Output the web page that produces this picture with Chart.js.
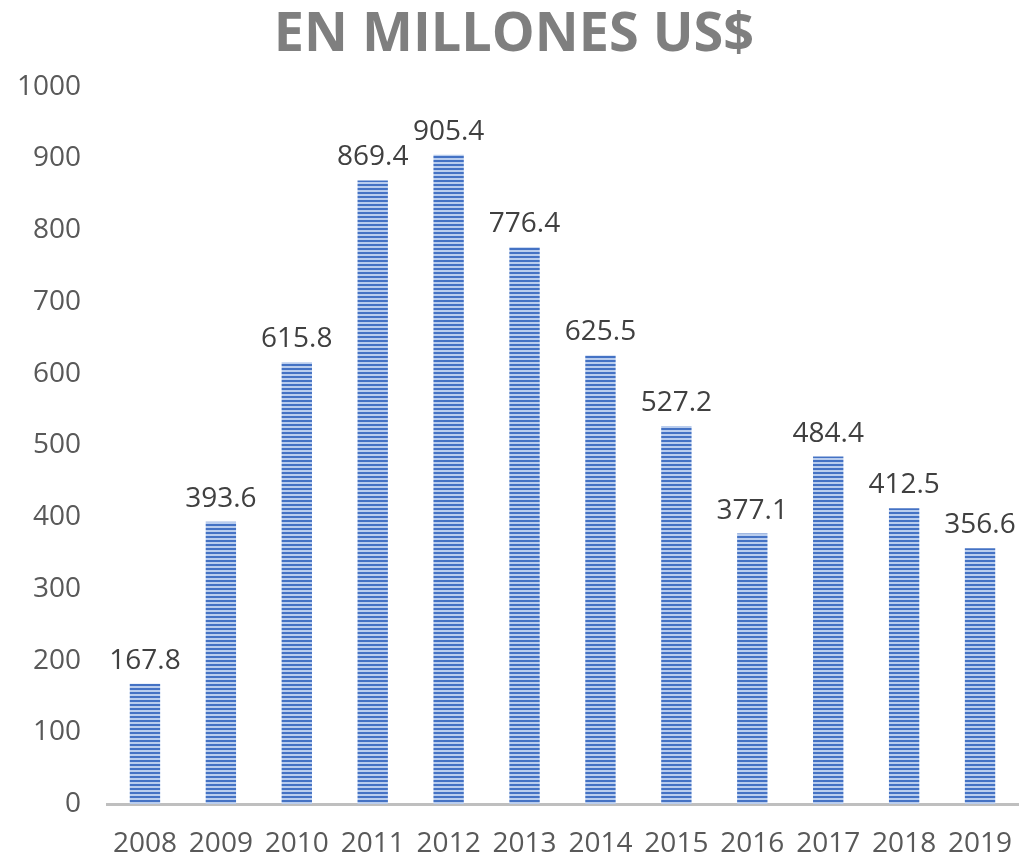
<!DOCTYPE html>
<html>
<head>
<meta charset="utf-8">
<script src="https://cdn.jsdelivr.net/npm/chart.js@4"></script>
<style>
  html, body { margin: 0; padding: 0; background: #fff; }
  #wrap { width: 1022px; height: 859px; }
</style>
</head>
<body>
<div id="wrap"><canvas id="chart" width="1022" height="859"></canvas></div>
<script>
const years = ['2008', '2009', '2010', '2011', '2012', '2013', '2014', '2015', '2016', '2017', '2018', '2019'];
const amounts = [167.8, 393.6, 615.8, 869.4, 905.4, 776.4, 625.5, 527.2, 377.1, 484.4, 412.5, 356.6];
const chartTitle = 'EN MILLONES US$';

// horizontal striped fill like the original
function stripePattern() {
    const c = document.createElement('canvas');
    c.width = 4;
    c.height = 4;
    const g = c.getContext('2d');
    g.fillStyle = '#B9CDEE';
    g.fillRect(0, 0, 4, 4);
    g.fillStyle = '#4472C4';
    g.fillRect(0, 0, 4, 2);
    return g.createPattern(c, 'repeat');
}

const valueLabels = {
    id: 'valueLabels',
    afterDatasetsDraw(chart) {
        const ctx = chart.ctx;
        const meta = chart.getDatasetMeta(0);
        ctx.save();
        ctx.font = '28px "Open Sans", sans-serif';
        ctx.fillStyle = '#404040';
        ctx.textAlign = 'center';
        ctx.textBaseline = 'bottom';
        meta.data.forEach((bar, i) => {
            ctx.fillText(amounts[i].toFixed(1), bar.x, bar.y - 9);
        });
        ctx.restore();
    }
};

const ctx = document.getElementById('chart');
new Chart(ctx, {
    type: 'bar',
    data: {
        labels: years,
        datasets: [{
            label: chartTitle,
            data: amounts,
            backgroundColor: stripePattern(),
            borderWidth: 0,
            categoryPercentage: 1,
            barPercentage: 0.4,
        }]
    },
    options: {
        responsive: false,
        animation: false,
        layout: { padding: { left: 10, right: 4, top: 0, bottom: 0 } },
        plugins: {
            legend: { display: false },
            tooltip: { enabled: false },
            title: {
                display: true,
                text: chartTitle,
                color: '#7F7F7F',
                font: { family: '"Open Sans", sans-serif', size: 54, weight: 'bold' },
                padding: { top: 3, bottom: 19 },
            },
        },
        scales: {
            x: {
                afterFit(scale) {
                    scale.height = 55;
                    scale.paddingLeft = 0;
                    scale.paddingRight = 0;
                },
                grid: { display: false, drawTicks: false },
                border: { display: true, color: '#BFBFBF', width: 3 },
                ticks: {
                    color: '#595959',
                    font: { family: '"Open Sans", sans-serif', size: 28 },
                    padding: 23,
                    maxRotation: 0,
                    autoSkip: false,
                },
            },
            y: {
                min: 0,
                max: 1000,
                afterFit(scale) {
                    scale.width = 97;
                    scale.paddingTop = 0;
                    scale.paddingBottom = 0;
                },
                grid: { display: false, drawTicks: false },
                border: { display: false },
                ticks: {
                    stepSize: 100,
                    color: '#595959',
                    font: { family: '"Open Sans", sans-serif', size: 28 },
                    padding: 26,
                    callback: (v) => String(v),
                },
            },
        },
    },
    plugins: [valueLabels],
});
</script>
</body>
</html>
